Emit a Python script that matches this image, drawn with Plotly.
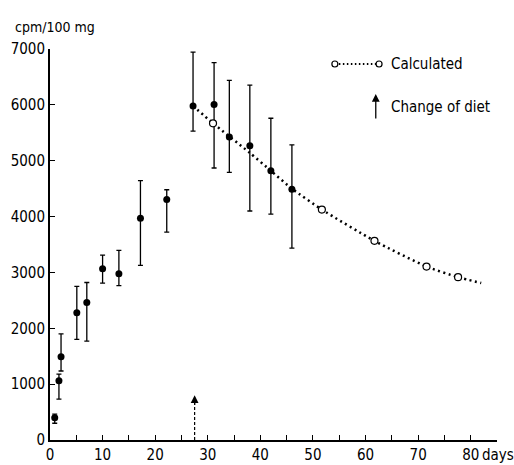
import plotly.graph_objects as go

# Measured values (filled circles) with error-bar bounds
meas_days = [0.9, 1.7, 2.1, 5.1, 7.0, 10.0, 13.1, 17.2, 22.2, 27.2, 31.2, 34.1, 38.0, 42.0, 46.0]
meas_vals = [400, 1060, 1490, 2280, 2460, 3065, 2975, 3970, 4305, 5980, 6005, 5425, 5270, 4820, 4490]
meas_upper = [465, 1180, 1900, 2750, 2820, 3310, 3395, 4645, 4480, 6945, 6755, 6440, 6355, 5760, 5285]
meas_lower = [300, 730, 1235, 1800, 1770, 2810, 2765, 3125, 3720, 5530, 4870, 4790, 4100, 4045, 3435]

# Calculated values (open circles)
calc_days = [31.0, 51.7, 61.7, 71.6, 77.6]
calc_vals = [5670, 4125, 3565, 3105, 2915]

# Calculated curve (dotted line)
curve_days = [27.2, 31.0, 38.0, 42.0, 46.0, 51.7, 61.7, 71.6, 77.6, 82.0]
curve_vals = [5980, 5670, 5140, 4820, 4500, 4125, 3565, 3105, 2915, 2810]

diet_change_day = 27.5

x_ticks = [0, 5, 10, 15, 20, 25, 30, 35, 40, 45, 50, 55, 60, 65, 70, 75, 80, 85]
x_ticktext = ["0", "", "10", "", "20", "", "30", "", "40", "", "50", "", "60", "", "70", "", "80", ""]
y_ticks = [0, 1000, 2000, 3000, 4000, 5000, 6000, 7000]

FONT = "DejaVu Sans Condensed, Liberation Sans Narrow, sans-serif"
DOT = "2px,3.5px"

err_plus = [u - v for u, v in zip(meas_upper, meas_vals)]
err_minus = [v - l for v, l in zip(meas_vals, meas_lower)]

fig = go.Figure()
fig.add_trace(go.Scatter(
    x=curve_days, y=curve_vals, mode="lines",
    line=dict(color="black", width=2.5, dash=DOT, shape="spline", smoothing=0.6),
    hoverinfo="skip", showlegend=False))
fig.add_trace(go.Scatter(
    x=meas_days, y=meas_vals, mode="markers",
    marker=dict(color="black", size=7, symbol="circle"),
    error_y=dict(type="data", symmetric=False, array=err_plus, arrayminus=err_minus,
                 color="black", thickness=1.3, width=2.5),
    showlegend=False))
fig.add_trace(go.Scatter(
    x=calc_days, y=calc_vals, mode="markers",
    marker=dict(color="white", size=7, symbol="circle", line=dict(color="black", width=1.2)),
    showlegend=False))

# Change of diet arrow in plot (dashed shaft + head)
fig.add_shape(type="line", xref="x", yref="y", x0=diet_change_day, x1=diet_change_day,
              y0=0, y1=700, line=dict(color="black", width=1.2, dash="3px,2px"))
fig.add_annotation(x=diet_change_day, y=800, ax=diet_change_day, ay=600,
                   xref="x", yref="y", axref="x", ayref="y", showarrow=True,
                   arrowhead=2, arrowsize=1.3, arrowwidth=1.2, arrowcolor="black", text="")

# Legend (manual)
ly1 = (440 - 64) / 391
lx0 = (335 - 49.5) / 448
lx1 = (379.3 - 49.5) / 448
fig.add_shape(type="line", xref="paper", yref="paper", x0=lx0, x1=lx1, y0=ly1, y1=ly1,
              line=dict(color="black", width=2, dash="1.5px,2.5px"))
for lx in (lx0, lx1):
    fig.add_shape(type="circle", xref="paper", yref="paper", xsizemode="pixel", ysizemode="pixel",
                  xanchor=lx, yanchor=ly1, x0=-3, x1=3, y0=-3, y1=3,
                  fillcolor="white", line=dict(color="black", width=1.2))
fig.add_annotation(xref="paper", yref="paper", x=(389 - 49.5) / 448, y=ly1, xanchor="left",
                   yanchor="middle", showarrow=False, text="Calculated",
                   font=dict(family=FONT, size=15, color="black"))
ax_x = (376 - 49.5) / 448
fig.add_annotation(xref="paper", yref="paper", x=ax_x, y=(440 - 94) / 391,
                   ax=0, ay=26, showarrow=True, arrowhead=2, arrowsize=1.2, arrowwidth=1.3,
                   arrowcolor="black", text="")
fig.add_annotation(xref="paper", yref="paper", x=(389 - 49.5) / 448, y=(440 - 107) / 391,
                   xanchor="left", yanchor="middle", showarrow=False, text="Change of diet",
                   font=dict(family=FONT, size=15, color="black"))

# Axis titles
fig.add_annotation(xref="paper", yref="paper", x=(12 - 49.5) / 448, y=(440 - 27) / 391,
                   xanchor="left", yanchor="middle", showarrow=False, text="cpm/100 mg",
                   font=dict(family=FONT, size=14, color="black"))
fig.add_annotation(xref="x", yref="paper", x=80, y=0, xanchor="left", yanchor="top",
                   xshift=9, yshift=-4, showarrow=False, text="days",
                   font=dict(family=FONT, size=15, color="black"))

fig.update_xaxes(range=[0, 85], tickvals=x_ticks, ticktext=x_ticktext, ticks="inside",
                 ticklen=5, tickwidth=1.3, tickcolor="black", showline=True, linecolor="black",
                 linewidth=2, showgrid=False, zeroline=False, automargin=False,
                 tickfont=dict(family=FONT, size=15, color="black"))
fig.update_yaxes(range=[0, 7000], tickvals=y_ticks, ticks="inside",
                 ticklen=5, tickwidth=1.3, tickcolor="black", showline=True, linecolor="black",
                 linewidth=2, showgrid=False, zeroline=False, automargin=False,
                 tickfont=dict(family=FONT, size=15, color="black"))

fig.update_layout(width=514, height=465, margin=dict(l=49.5, r=16.5, t=49, b=25),
                  plot_bgcolor="white", paper_bgcolor="white", showlegend=False,
                  font=dict(family=FONT, color="black"))

fig.write_html("out.html", config={"displayModeBar": False},
               post_script="document.body.style.margin='0';")
